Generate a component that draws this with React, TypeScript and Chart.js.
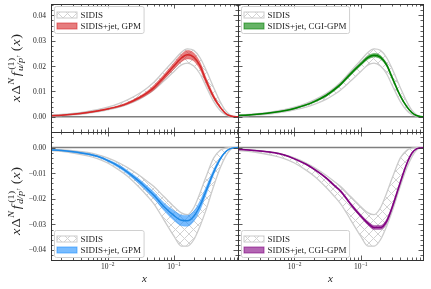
import { useEffect, useRef } from "react";
import { Chart, registerables } from "chart.js";
Chart.register(...registerables);

// ---------------- data ----------------
const X = [0.0014, 0.002, 0.003, 0.005, 0.007, 0.01, 0.015, 0.02, 0.03, 0.04, 0.05, 0.07, 0.1, 0.13, 0.16, 0.2, 0.25, 0.3, 0.4, 0.5, 0.6, 0.7, 0.8, 0.93];

const U_SIDIS_LO = [0.0003, 0.0005, 0.0008, 0.0014, 0.0019, 0.0027, 0.0038, 0.0049, 0.0069, 0.0088, 0.0106, 0.014, 0.0178, 0.0205, 0.0212, 0.02, 0.0168, 0.0125, 0.006, 0.0025, 0.0008, 0.0002, 0.0, 0];
const U_SIDIS_HI = [0.0007, 0.0009, 0.0013, 0.0021, 0.0028, 0.0038, 0.0053, 0.0067, 0.0092, 0.0115, 0.0136, 0.0178, 0.0222, 0.0255, 0.0268, 0.0262, 0.0232, 0.019, 0.0115, 0.006, 0.0025, 0.0008, 0.0002, 0];

const U_GPM = [0.0004, 0.0006, 0.001, 0.0017, 0.0023, 0.0031, 0.0042, 0.0053, 0.0075, 0.0095, 0.0115, 0.0155, 0.02, 0.0232, 0.0245, 0.0236, 0.02, 0.0148, 0.0078, 0.0038, 0.0014, 0.0004, 0.0001, 0];
const U_GPM_LO = [0.0003, 0.0005, 0.0009, 0.0015, 0.0021, 0.0029, 0.0039, 0.0049, 0.007, 0.0088, 0.0106, 0.0145, 0.0188, 0.0217, 0.0228, 0.022, 0.0186, 0.0137, 0.0071, 0.0034, 0.0012, 0.0003, 0.0, 0];
const U_GPM_HI = [0.0005, 0.0007, 0.0011, 0.0019, 0.0025, 0.0033, 0.0045, 0.0057, 0.008, 0.0102, 0.0124, 0.0165, 0.0212, 0.0247, 0.0262, 0.0252, 0.0214, 0.016, 0.0086, 0.0042, 0.0016, 0.0005, 0.0001, 0];

const U_CGI = [0.0005, 0.0007, 0.0011, 0.0018, 0.0024, 0.0033, 0.0047, 0.006, 0.0084, 0.0107, 0.0128, 0.0168, 0.0207, 0.0234, 0.0243, 0.0235, 0.0203, 0.0155, 0.0082, 0.004, 0.0016, 0.0005, 0.0001, 0];
const U_CGI_LO = [0.0004, 0.0006, 0.001, 0.0017, 0.0023, 0.0031, 0.0045, 0.0057, 0.008, 0.0102, 0.0123, 0.0162, 0.0201, 0.0227, 0.0236, 0.0228, 0.0197, 0.0149, 0.0078, 0.0037, 0.0014, 0.0004, 0.0, 0];
const U_CGI_HI = [0.0006, 0.0008, 0.0012, 0.0019, 0.0025, 0.0035, 0.0049, 0.0063, 0.0088, 0.0112, 0.0133, 0.0174, 0.0213, 0.0241, 0.025, 0.0242, 0.0209, 0.0161, 0.0086, 0.0043, 0.0018, 0.0006, 0.0001, 0];

const D_SIDIS_LO = [-0.0012, -0.0015, -0.0021, -0.0032, -0.0043, -0.006, -0.0088, -0.0112, -0.0155, -0.019, -0.022, -0.028, -0.0345, -0.0385, -0.0385, -0.036, -0.0305, -0.025, -0.015, -0.008, -0.0035, -0.001, -0.0002, 0];
const D_SIDIS_HI = [-0.0006, -0.0008, -0.0012, -0.0019, -0.0027, -0.004, -0.006, -0.0078, -0.0108, -0.0132, -0.0152, -0.019, -0.023, -0.0255, -0.0262, -0.0235, -0.0175, -0.012, -0.004, -0.001, -0.0002, 0, 0, 0];

const D_GPM = [-0.0009, -0.0011, -0.0016, -0.0025, -0.0034, -0.005, -0.0074, -0.0096, -0.0132, -0.0162, -0.0186, -0.0229, -0.0265, -0.0284, -0.0286, -0.0268, -0.0225, -0.0175, -0.0095, -0.0045, -0.0017, -0.0005, -0.0001, 0];
const D_GPM_LO = [-0.001, -0.0012, -0.0018, -0.0028, -0.0037, -0.0054, -0.008, -0.0103, -0.0141, -0.0173, -0.0198, -0.0244, -0.0284, -0.0305, -0.0307, -0.0288, -0.0243, -0.019, -0.0105, -0.005, -0.0019, -0.0006, -0.0001, 0];
const D_GPM_HI = [-0.0008, -0.001, -0.0014, -0.0022, -0.0031, -0.0046, -0.0068, -0.0089, -0.0123, -0.0151, -0.0174, -0.0214, -0.0246, -0.0263, -0.0265, -0.0248, -0.0207, -0.016, -0.0085, -0.004, -0.0015, -0.0004, -0.0001, 0];

const D_CGI = [-0.0007, -0.0009, -0.0013, -0.002, -0.0029, -0.0044, -0.0065, -0.0085, -0.0118, -0.0148, -0.017, -0.0219, -0.0266, -0.0296, -0.0312, -0.0312, -0.0286, -0.0234, -0.0135, -0.0063, -0.0021, -0.0005, -0.0001, 0];
const D_CGI_LO = [-0.0008, -0.001, -0.0014, -0.0021, -0.003, -0.0045, -0.0067, -0.0087, -0.0121, -0.0152, -0.0174, -0.0224, -0.0272, -0.0303, -0.032, -0.032, -0.0294, -0.0241, -0.014, -0.0066, -0.0022, -0.0005, -0.0001, 0];
const D_CGI_HI = [-0.0006, -0.0008, -0.0012, -0.0019, -0.0028, -0.0043, -0.0063, -0.0083, -0.0115, -0.0144, -0.0166, -0.0214, -0.026, -0.0289, -0.0304, -0.0304, -0.0278, -0.0227, -0.013, -0.006, -0.002, -0.0005, -0.0001, 0];

const Y_TICKS_U = [0, 0.01, 0.02, 0.03, 0.04];
const Y_TICKS_D = [0, -0.01, -0.02, -0.03, -0.04];
const X_TICKS = [0.01, 0.1];
const X_TICK_EXP = ["\u22122", "\u22121"];
const SERIES_SIDIS = "SIDIS";
const SERIES_GPM = "SIDIS+jet, GPM";
const SERIES_CGI = "SIDIS+jet, CGI-GPM";

// ---------------- layout / style ----------------
const W = 431;
const H = 289;
const XMIN = 0.0014;
const XMAX_L = 0.93;
const XMAX_R = 0.88;
const FONT = '"Liberation Serif", "DejaVu Serif", serif';
const TEXT = "#262626";
const FRAME = "#333333";

type Panel = {
  area: { l: number; t: number; r: number; b: number };
  xMax: number;
  yMin: number; yMax: number;
  sLo: number[]; sHi: number[];
  lo: number[]; hi: number[]; c: number[];
  line: string; fill: string; edge: string;
  label: string;
  legendBottom: boolean;
  showY: boolean; showX: boolean;
  yTicks: number[];
  flavor: string;
};

const PANELS: Panel[] = [
  { area: { l: 51, t: 4, r: 238, b: 132 }, xMax: XMAX_L, yMin: -0.006, yMax: 0.0445, sLo: U_SIDIS_LO, sHi: U_SIDIS_HI, lo: U_GPM_LO, hi: U_GPM_HI, c: U_GPM, line: "#d62728", fill: "rgba(214,39,40,0.6)", edge: "#d62728", label: SERIES_GPM, legendBottom: false, showY: true, showX: false, yTicks: Y_TICKS_U, flavor: "u" },
  { area: { l: 238, t: 4, r: 423, b: 132 }, xMax: XMAX_R, yMin: -0.006, yMax: 0.0445, sLo: U_SIDIS_LO, sHi: U_SIDIS_HI, lo: U_CGI_LO, hi: U_CGI_HI, c: U_CGI, line: "#008000", fill: "rgba(0,128,0,0.6)", edge: "#008000", label: SERIES_CGI, legendBottom: false, showY: false, showX: false, yTicks: Y_TICKS_U, flavor: "u" },
  { area: { l: 51, t: 132, r: 238, b: 260 }, xMax: XMAX_L, yMin: -0.0439, yMax: 0.0061, sLo: D_SIDIS_LO, sHi: D_SIDIS_HI, lo: D_GPM_LO, hi: D_GPM_HI, c: D_GPM, line: "#1e88e5", fill: "rgba(30,144,255,0.6)", edge: "#1e90ff", label: SERIES_GPM, legendBottom: true, showY: true, showX: true, yTicks: Y_TICKS_D, flavor: "d" },
  { area: { l: 238, t: 132, r: 423, b: 260 }, xMax: XMAX_R, yMin: -0.0439, yMax: 0.0061, sLo: D_SIDIS_LO, sHi: D_SIDIS_HI, lo: D_CGI_LO, hi: D_CGI_HI, c: D_CGI, line: "#800080", fill: "rgba(128,0,128,0.6)", edge: "#800080", label: SERIES_CGI, legendBottom: true, showY: false, showX: true, yTicks: Y_TICKS_D, flavor: "d" },
];

function makeHatch(): CanvasPattern | string {
  const s = 9;
  const c = document.createElement("canvas");
  c.width = s; c.height = s;
  const g = c.getContext("2d");
  if (!g) return "#ddd";
  g.strokeStyle = "#d2d2d2";
  g.lineWidth = 1;
  g.beginPath();
  g.moveTo(-1, -1); g.lineTo(s + 1, s + 1);
  g.moveTo(s + 1, -1); g.lineTo(-1, s + 1);
  g.stroke();
  return g.createPattern(c, "repeat") || "#ddd";
}

function pts(arr: number[]) {
  return X.map((x, i) => ({ x, y: arr[i] }));
}

function drawYTitle(ctx: CanvasRenderingContext2D, bx: number, cy: number, flavor: string) {
  const F = 12.5;
  const it = (s: number) => `italic ${s}px ${FONT}`;
  const rm = (s: number) => `${s}px ${FONT}`;
  ctx.save();
  const wOf = (t: string, f: string) => { ctx.font = f; return ctx.measureText(t).width; };
  const seq: { t: string; f: string; dy: number; dx: number }[] = [];
  let u = 0;
  const push = (t: string, f: string, dy: number, extra = 0) => { seq.push({ t, f, dy, dx: u }); u += wOf(t, f) + extra; };
  push("x", it(F), 0, 1);
  push("\u0394", rm(F), 0, 0.3);
  push("N", it(F * 0.7), -F * 0.42, 1.5);
  push("f", it(F), 0, 2);
  const start = u;
  seq.push({ t: "(1)", f: rm(F * 0.7), dy: -F * 0.45, dx: start });
  const w1 = wOf("(1)", rm(F * 0.7));
  seq.push({ t: flavor + "/p", f: it(F * 0.7), dy: F * 0.3, dx: start - 1 });
  const w2a = wOf(flavor + "/p", it(F * 0.7));
  seq.push({ t: "\u2191", f: rm(F * 0.45), dy: F * 0.02, dx: start - 1 + w2a + 0.3 });
  const w2 = w2a + wOf("\u2191", rm(F * 0.45));
  u = start + Math.max(w1, w2) + 2;
  push("(", rm(F), 0, 0.5);
  push("x", it(F), 0, 0.5);
  push(")", rm(F), 0);
  const total = u;
  const target = 68;
  const sx = target / total;
  ctx.translate(bx, cy);
  ctx.rotate(-Math.PI / 2);
  ctx.scale(sx, 1);
  ctx.fillStyle = TEXT;
  ctx.textBaseline = "alphabetic";
  ctx.textAlign = "left";
  for (const s of seq) {
    ctx.font = s.f;
    ctx.fillText(s.t, s.dx - total / 2, s.dy);
  }
  ctx.restore();
}

function decoPlugin(p: Panel, idx: number, hatch: CanvasPattern | string) {
  return {
    id: "deco" + idx,
    beforeDatasetsDraw(chart: any) {
      const { ctx, chartArea: a, scales } = chart;
      const y0 = scales.y.getPixelForValue(0);
      ctx.save();
      ctx.strokeStyle = "#7f7f7f";
      ctx.lineWidth = 1.5;
      ctx.beginPath();
      ctx.moveTo(a.left, y0);
      ctx.lineTo(a.right, y0);
      ctx.stroke();
      ctx.restore();
    },
    afterDraw(chart: any) {
      const { ctx, chartArea: a, scales } = chart;
      const xs = scales.x, ys = scales.y;
      ctx.save();
      // ticks
      ctx.strokeStyle = FRAME;
      ctx.lineWidth = 0.8;
      ctx.beginPath();
      for (let e = -4; e <= 0; e++) {
        for (let k = 1; k <= 9; k++) {
          const v = k * Math.pow(10, e);
          if (v < XMIN || v > p.xMax) continue;
          const px = Math.round(xs.getPixelForValue(v)) + 0.5;
          const len = k === 1 ? 4.5 : 2.5;
          ctx.moveTo(px, a.bottom); ctx.lineTo(px, a.bottom - len);
          ctx.moveTo(px, a.top); ctx.lineTo(px, a.top + len);
        }
      }
      const i0 = Math.ceil(p.yMin / 0.002 - 1e-9);
      const i1 = Math.floor(p.yMax / 0.002 + 1e-9);
      for (let i = i0; i <= i1; i++) {
        const v = i * 0.002;
        const py = Math.round(ys.getPixelForValue(v)) + 0.5;
        const len = i % 5 === 0 ? 4.5 : 2.5;
        ctx.moveTo(a.left, py); ctx.lineTo(a.left + len, py);
        ctx.moveTo(a.right, py); ctx.lineTo(a.right - len, py);
      }
      ctx.stroke();
      // frame
      ctx.lineWidth = 1;
      ctx.strokeRect(a.left + 0.5, a.top + 0.5, a.right - a.left, a.bottom - a.top);

      ctx.fillStyle = TEXT;
      // y tick labels
      if (p.showY) {
        ctx.font = `7.5px ${FONT}`;
        ctx.textAlign = "right";
        ctx.textBaseline = "middle";
        for (const v of p.yTicks) {
          const py = ys.getPixelForValue(v);
          const s = (v < 0 ? "\u2212" : "") + Math.abs(v).toFixed(2);
          ctx.fillText(s, a.left - 5, py + 0.5);
        }
        drawYTitle(ctx, 19.5, (a.top + a.bottom) / 2 + (p.legendBottom ? 5 : 0), p.flavor);
      }
      // x tick labels and title
      if (p.showX) {
        ctx.textAlign = "left";
        ctx.textBaseline = "alphabetic";
        X_TICKS.forEach((v, i) => {
          const px = xs.getPixelForValue(v);
          ctx.font = `7.5px ${FONT}`;
          const w1 = ctx.measureText("10").width;
          ctx.font = `5.5px ${FONT}`;
          const w2 = ctx.measureText(X_TICK_EXP[i]).width;
          const x0 = px - (w1 + w2) / 2;
          ctx.font = `7.5px ${FONT}`;
          ctx.fillText("10", x0, a.bottom + 9);
          ctx.font = `5.5px ${FONT}`;
          ctx.fillText(X_TICK_EXP[i], x0 + w1 + 0.3, a.bottom + 5.5);
        });
        ctx.font = `italic 11px ${FONT}`;
        ctx.textAlign = "center";
        ctx.fillText("x", (a.left + a.right) / 2, a.bottom + 21.5);
      }
      // legend
      const lx = a.left + 3.5;
      ctx.font = `9px ${FONT}`;
      const tw = Math.max(ctx.measureText(SERIES_SIDIS).width, ctx.measureText(p.label).width);
      const boxW = 26 + tw + 3;
      const boxH = 27;
      const ly = p.legendBottom ? a.bottom - 2.5 - boxH : a.top + 2.5;
      ctx.beginPath();
      const r = 2;
      ctx.moveTo(lx + r, ly);
      ctx.arcTo(lx + boxW, ly, lx + boxW, ly + boxH, r);
      ctx.arcTo(lx + boxW, ly + boxH, lx, ly + boxH, r);
      ctx.arcTo(lx, ly + boxH, lx, ly, r);
      ctx.arcTo(lx, ly, lx + boxW, ly, r);
      ctx.closePath();
      ctx.fillStyle = "rgba(255,255,255,0.8)";
      ctx.fill();
      ctx.strokeStyle = "#d0d0d0";
      ctx.lineWidth = 1;
      ctx.stroke();
      const rows = [ly + 8.5, ly + 19.5];
      ctx.fillStyle = hatch as any;
      ctx.fillRect(lx + 2.5, rows[0] - 3, 20, 6);
      ctx.strokeStyle = "#cccccc";
      ctx.strokeRect(lx + 2.5, rows[0] - 3, 20, 6);
      ctx.fillStyle = p.fill;
      ctx.fillRect(lx + 2.5, rows[1] - 3, 20, 6);
      ctx.strokeStyle = p.edge;
      ctx.globalAlpha = 0.6;
      ctx.strokeRect(lx + 2.5, rows[1] - 3, 20, 6);
      ctx.globalAlpha = 1;
      ctx.fillStyle = TEXT;
      ctx.font = `9px ${FONT}`;
      ctx.textAlign = "left";
      ctx.textBaseline = "middle";
      ctx.fillText(SERIES_SIDIS, lx + 26, rows[0] + 0.5);
      ctx.fillText(p.label, lx + 26, rows[1] + 0.5);
      ctx.restore();
    },
  };
}

function makeConfig(p: Panel, idx: number, hatch: CanvasPattern | string): any {
  const a = p.area;
  const base = { pointRadius: 0, cubicInterpolationMode: "monotone" as const };
  return {
    type: "line",
    data: {
      datasets: [
        { ...base, order: 10, label: SERIES_SIDIS + " lo", data: pts(p.sLo), borderColor: "#cbcbcb", borderWidth: 1.3, fill: false },
        { ...base, order: 9, label: SERIES_SIDIS, data: pts(p.sHi), borderColor: "#cbcbcb", borderWidth: 1.3, backgroundColor: hatch, fill: "-1" },
        { ...base, order: 3, label: p.label + " lo", data: pts(p.lo), borderColor: p.fill, borderWidth: 0.5, fill: false },
        { ...base, order: 2, label: p.label + " hi", data: pts(p.hi), borderColor: p.fill, borderWidth: 0.5, backgroundColor: p.fill, fill: "-1" },
        { ...base, order: 1, label: p.label, data: pts(p.c), borderColor: p.line, borderWidth: 1.5, fill: false },
      ],
    },
    options: {
      animation: false,
      responsive: false,
      devicePixelRatio: 1,
      events: [],
      layout: { padding: { left: a.l, top: a.t, right: W - a.r, bottom: H - a.b } },
      scales: {
        x: { type: "logarithmic", min: XMIN, max: p.xMax, display: false },
        y: { type: "linear", min: p.yMin, max: p.yMax, display: false },
      },
      plugins: { legend: { display: false }, tooltip: { enabled: false } },
    },
    plugins: [decoPlugin(p, idx, hatch)],
  };
}

export default function App() {
  const refs = useRef<(HTMLCanvasElement | null)[]>([]);
  useEffect(() => {
    const hatch = makeHatch();
    const charts: Chart[] = [];
    PANELS.forEach((p, i) => {
      const cv = refs.current[i];
      if (cv) charts.push(new Chart(cv, makeConfig(p, i, hatch)));
    });
    return () => charts.forEach((c) => c.destroy());
  }, []);
  return (
    <div>
      {PANELS.map((_, i) => (
        <canvas
          key={i}
          ref={(el) => { refs.current[i] = el; }}
          width={W}
          height={H}
          style={{ position: "absolute", left: 0, top: 0, width: W, height: H }}
        />
      ))}
    </div>
  );
}
